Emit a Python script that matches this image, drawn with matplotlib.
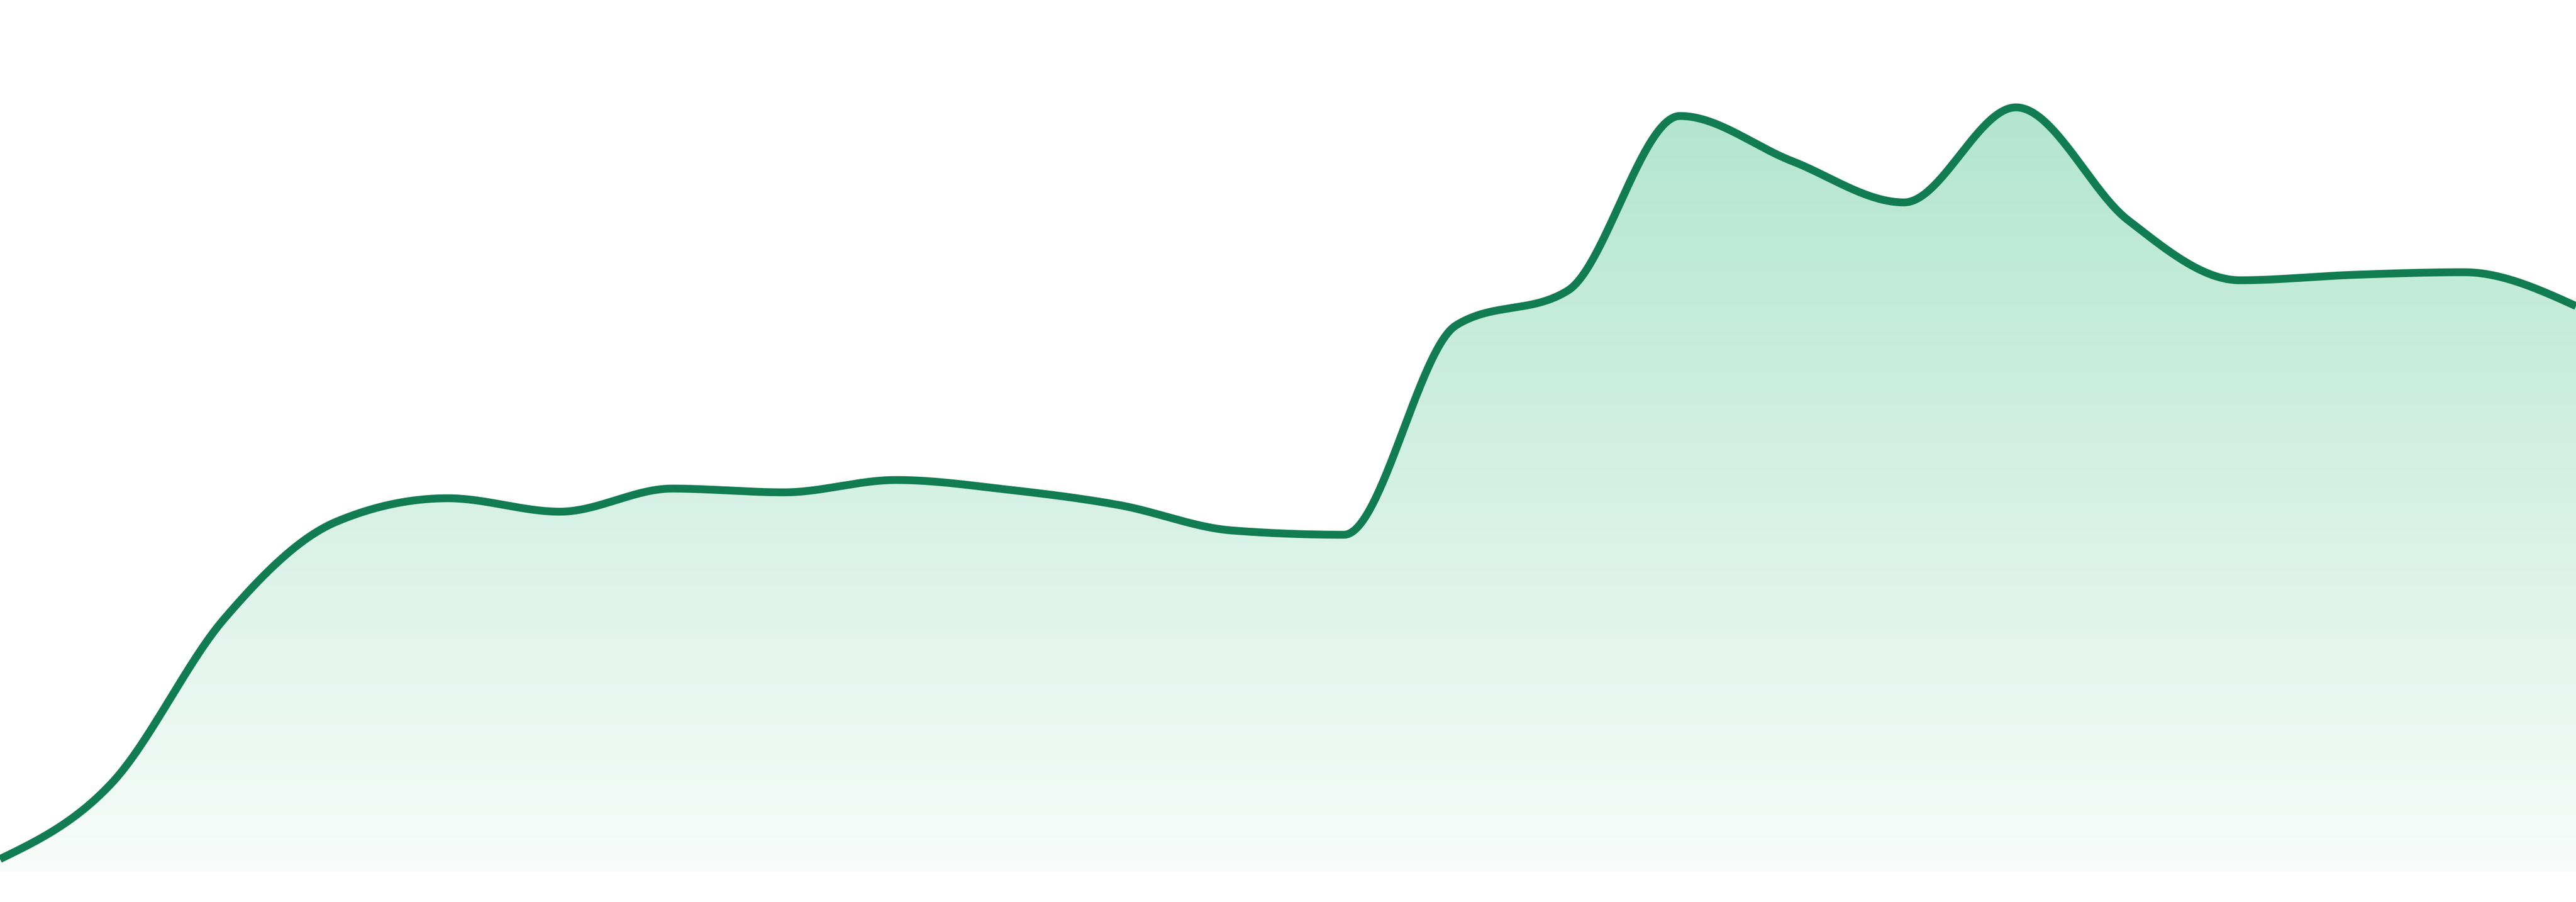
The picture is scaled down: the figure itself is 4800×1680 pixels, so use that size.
import numpy as np
import matplotlib
matplotlib.use("Agg")
import matplotlib.pyplot as plt
from matplotlib.path import Path
from matplotlib.patches import PathPatch

# ---- data (24 evenly spaced points, arbitrary units) ----
x_index = list(range(24))
values = [2.3, 16.5, 47.0, 65.1, 69.5, 67.0, 71.3, 70.6, 72.9, 71.1, 68.2, 63.5,
          62.7, 101.7, 108.2, 140.7, 132.3, 124.6, 142.3, 121.3, 110.1, 111.1, 111.6, 105.3]

line_color = "#117c52"
fill_top = (178/255, 229/255, 208/255)
fill_bottom = (248/255, 252/255, 250/255)


def monotone_x(xs, ys, per_seg=60):
    xs = np.asarray(xs, float)
    ys = np.asarray(ys, float)
    n = len(xs)
    h = np.diff(xs)
    s = np.diff(ys) / h
    t = np.zeros(n)
    for i in range(1, n - 1):
        h0, h1 = h[i - 1], h[i]
        s0, s1 = s[i - 1], s[i]
        p = (s0 * h1 + s1 * h0) / (h0 + h1)
        t[i] = (np.sign(s0) + np.sign(s1)) * min(abs(s0), abs(s1), 0.5 * abs(p))
    t[0] = (3 * s[0] - t[1]) / 2
    t[-1] = (3 * s[-1] - t[-2]) / 2
    px, py = [], []
    for i in range(n - 1):
        u = np.linspace(0, 1, per_seg, endpoint=(i == n - 2))
        dx = h[i]
        h00 = 2 * u**3 - 3 * u**2 + 1
        h10 = u**3 - 2 * u**2 + u
        h01 = -2 * u**3 + 3 * u**2
        h11 = u**3 - u**2
        px.append(xs[i] + u * dx)
        py.append(h00 * ys[i] + h10 * dx * t[i] + h01 * ys[i + 1] + h11 * dx * t[i + 1])
    return np.concatenate(px), np.concatenate(py)


W, H, DPI = 4800, 1680, 100
fig = plt.figure(figsize=(W / DPI, H / DPI), dpi=DPI)
fig.patch.set_facecolor("white")
ax = fig.add_axes([0, 0, 1, 1])
ax.set_facecolor("white")
ax.set_xlim(0, 23)
ax.set_ylim(-5.7, 162.3)
ax.axis("off")

cx, cy = monotone_x(x_index, values)

# gradient fill clipped to the area under the curve
vmax = max(values)
grad_y = np.linspace(-5.7, 162.3, 600)
frac = np.clip((vmax + 0.7 - grad_y) / (vmax + 0.7), 0, 1)
img = np.zeros((len(grad_y), 2, 3))
for k in range(3):
    img[:, :, k] = (fill_top[k] + (fill_bottom[k] - fill_top[k]) * frac)[:, None]
im = ax.imshow(img, extent=(0, 23, -5.7, 162.3), origin="lower", aspect="auto",
               interpolation="bilinear", zorder=1)
verts = np.vstack([np.column_stack([cx, cy]), [[cx[-1], 0], [cx[0], 0], [cx[0], cy[0]]]])
codes = [Path.MOVETO] + [Path.LINETO] * (len(verts) - 2) + [Path.CLOSEPOLY]
patch = PathPatch(Path(verts, codes), facecolor="none", edgecolor="none")
ax.add_patch(patch)
im.set_clip_path(patch)

ax.plot(cx, cy, color=line_color, linewidth=10.5, solid_capstyle="butt",
        solid_joinstyle="round", zorder=3)

fig.savefig("out.png", dpi=DPI, facecolor="white")
